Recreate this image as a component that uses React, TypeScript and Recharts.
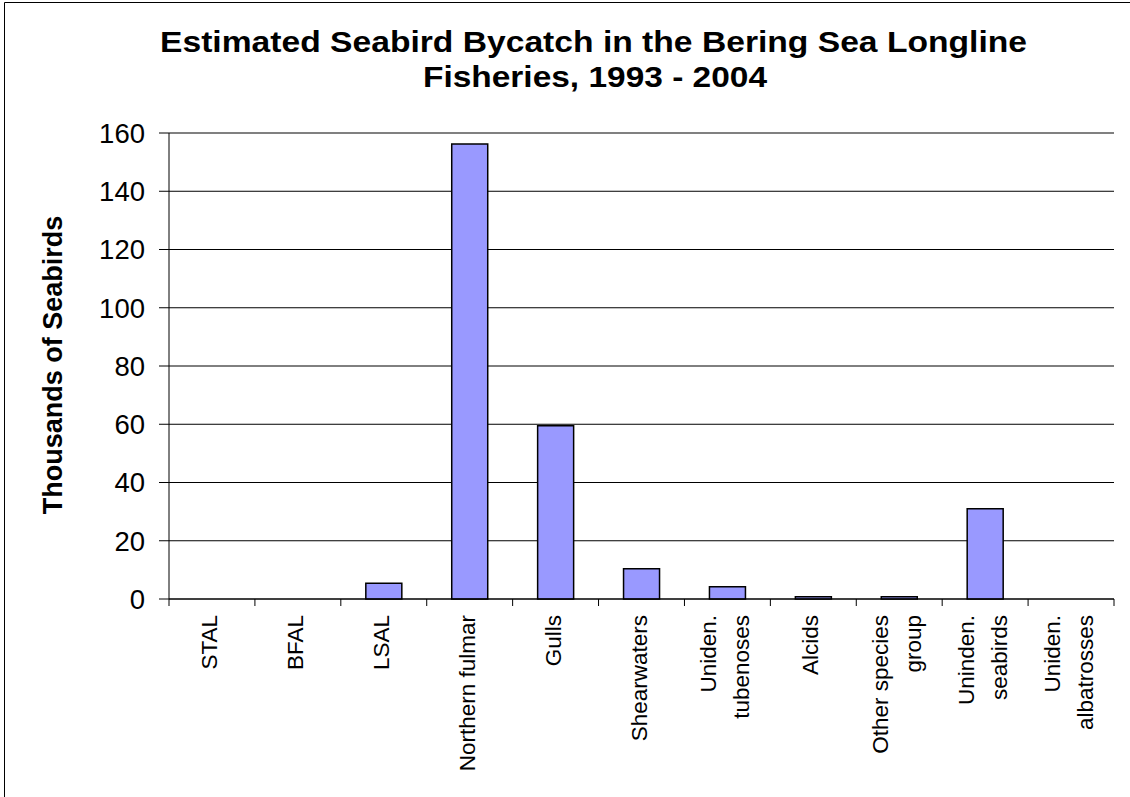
import React from 'react';
import { BarChart, Bar, XAxis, YAxis, CartesianGrid, ReferenceLine } from 'recharts';

const CATEGORIES = [
  'STAL',
  'BFAL',
  'LSAL',
  'Northern fulmar',
  'Gulls',
  'Shearwaters',
  'Uniden. tubenoses',
  'Alcids',
  'Other species group',
  'Uninden. seabirds',
  'Uniden. albatrosses',
];

const LABEL_LINES: string[][] = [
  ['STAL'],
  ['BFAL'],
  ['LSAL'],
  ['Northern fulmar'],
  ['Gulls'],
  ['Shearwaters'],
  ['Uniden.', 'tubenoses'],
  ['Alcids'],
  ['Other species', 'group'],
  ['Uninden.', 'seabirds'],
  ['Uniden.', 'albatrosses'],
];

const BYCATCH = [0, 0, 5.4, 156.2, 59.5, 10.4, 4.2, 0.8, 0.8, 31.0, 0];

const Y_TICKS = [0, 20, 40, 60, 80, 100, 120, 140, 160];

const TITLE_LINES = ['Estimated Seabird Bycatch in the Bering Sea Longline', 'Fisheries, 1993 - 2004'];
const Y_LABEL = 'Thousands of Seabirds';

const data = CATEGORIES.map((c, i) => ({ name: c, value: BYCATCH[i] }));

const FONT = '"Liberation Sans", Arial, sans-serif';

const XTick = (props: any) => {
  const { x, y, payload, index } = props;
  const half = payload && typeof payload.offset === 'number' && payload.offset > 0 ? payload.offset : 43;
  const lines = LABEL_LINES[index] || [String(payload.value)];
  const ys = lines.length === 1 ? [5] : [-11, 22];
  return (
    <g>
      <line x1={x - half} x2={x - half} y1={y} y2={y + 7} stroke="#000" strokeWidth={1} />
      {index === CATEGORIES.length - 1 && (
        <line x1={x + half} x2={x + half} y1={y} y2={y + 7} stroke="#000" strokeWidth={1} />
      )}
      <text
        transform={`translate(${x},${y + 16}) rotate(-90)`}
        textAnchor="end"
        fontSize={22.5}
        fontFamily={FONT}
        fill="#000"
      >
        {lines.map((l, i) => (
          <tspan key={i} x={0} y={ys[i]}>
            {l}
          </tspan>
        ))}
      </text>
    </g>
  );
};

export default function App() {
  return (
    <div style={{ position: 'absolute', left: 0, top: 0, width: 1130, height: 797, background: '#fff' }}>
      <BarChart
        width={1130}
        height={797}
        data={data}
        margin={{ top: 133, right: 16, bottom: 18, left: 89 }}
        style={{ fontFamily: FONT }}
      >
        <CartesianGrid vertical={false} stroke="#000" strokeWidth={1} />
        <XAxis
          dataKey="name"
          interval={0}
          height={180}
          tickSize={0}
          tickMargin={0}
          tickLine={false}
          axisLine={{ stroke: '#000', strokeWidth: 1 }}
          tick={<XTick />}
        />
        <YAxis
          domain={[0, 160]}
          ticks={Y_TICKS}
          width={80}
          tickSize={10}
          tickMargin={14}
          axisLine={{ stroke: '#000', strokeWidth: 1 }}
          tickLine={{ stroke: '#000' }}
          tick={{ fontSize: 27.5, fill: '#000', fontFamily: FONT }}
          interval={0}
        />
        <YAxis
          yAxisId="right"
          orientation="right"
          domain={[0, 160]}
          width={0}
          tick={false}
          tickLine={false}
          axisLine={{ stroke: '#808080', strokeWidth: 2 }}
        />
        <ReferenceLine y={160} stroke="#808080" strokeWidth={2} />
        <Bar
          dataKey="value"
          fill="#9999FF"
          stroke="#000"
          strokeWidth={1.5}
          barSize={36}
          isAnimationActive={false}
        />
      </BarChart>
      <svg
        width={1130}
        height={797}
        style={{ position: 'absolute', left: 0, top: 0, pointerEvents: 'none' }}
      >
        <line x1={4.5} y1={2.5} x2={1130} y2={2.5} stroke="#000" strokeWidth={1} />
        <line x1={4.5} y1={2.5} x2={4.5} y2={797} stroke="#000" strokeWidth={1} />
        <text
          x={160}
          y={52}
          textLength={867}
          lengthAdjust="spacingAndGlyphs"
          fontSize={29}
          fontWeight="bold"
          fontFamily={FONT}
          fill="#000"
        >
          {TITLE_LINES[0]}
        </text>
        <text
          x={423}
          y={87}
          textLength={344}
          lengthAdjust="spacingAndGlyphs"
          fontSize={29}
          fontWeight="bold"
          fontFamily={FONT}
          fill="#000"
        >
          {TITLE_LINES[1]}
        </text>
        <text
          transform="translate(62,365) rotate(-90)"
          textAnchor="middle"
          fontSize={27}
          fontWeight="bold"
          fontFamily={FONT}
          fill="#000"
        >
          {Y_LABEL}
        </text>
      </svg>
    </div>
  );
}
